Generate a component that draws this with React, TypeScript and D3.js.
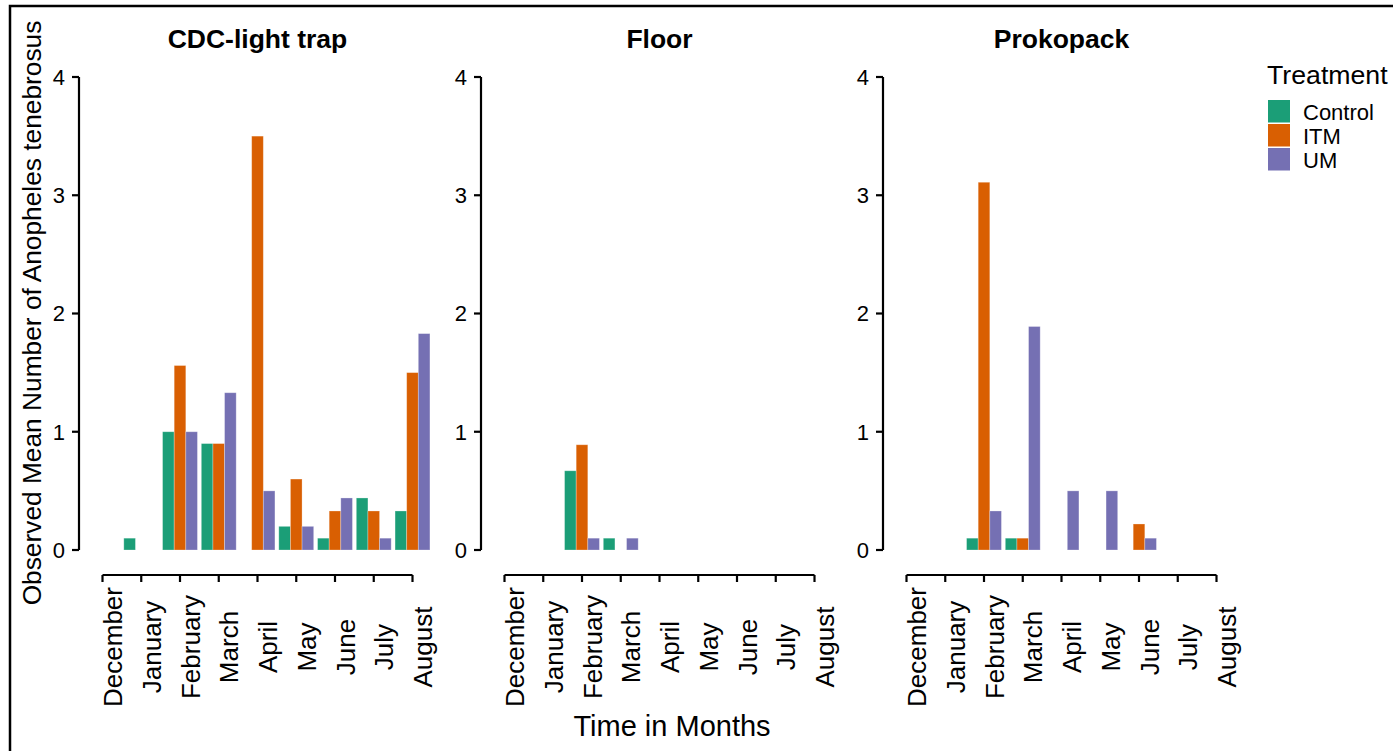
import React from "react";
import * as d3 from "d3";

const months = ["December", "January", "February", "March", "April", "May", "June", "July", "August"];
const treatments = ["Control", "ITM", "UM"];
const panels = ["CDC-light trap", "Floor", "Prokopack"];
const colors = ["#1B9E77", "#D95F02", "#7570B3"];
const yTicks = [0, 1, 2, 3, 4];

// values per month (null = no bar)
const cdcControl = [null, 0.1, 1.0, 0.9, 0, 0.2, 0.1, 0.44, 0.33];
const cdcITM = [null, null, 1.56, 0.9, 3.5, 0.6, 0.33, 0.33, 1.5];
const cdcUM = [null, null, 1.0, 1.33, 0.5, 0.2, 0.44, 0.1, 1.83];

const floorControl = [null, null, 0.67, 0.1, null, null, null, null, null];
const floorITM = [null, null, 0.89, 0, null, null, null, null, null];
const floorUM = [null, null, 0.1, 0.1, null, null, null, null, null];

const prokControl = [null, null, 0.1, 0.1, 0, 0, 0, null, null];
const prokITM = [null, null, 3.11, 0.1, 0, 0, 0.22, null, null];
const prokUM = [null, null, 0.33, 1.89, 0.5, 0.5, 0.1, null, null];

const panelData = [
  [cdcControl, cdcITM, cdcUM],
  [floorControl, floorITM, floorUM],
  [prokControl, prokITM, prokUM],
];

const W = 1393;
const H = 751;
const FONT = "'Liberation Sans', Arial, Helvetica, sans-serif";

export default function App() {
  const y = d3.scaleLinear().domain([0, 4]).range([550, 77]);
  const panelLeft = d3.scaleLinear().domain([0, 2]).range([79, 883]);
  const panelW = 357;
  const axisY = 575;

  return (
    <svg
      width={W}
      height={H}
      style={{ position: "absolute", left: 0, top: 0, background: "#fff" }}
      fontFamily={FONT}
    >
      <rect x={0} y={0} width={W} height={H} fill="#fff" />
      <rect x={10} y={6} width={W + 20} height={H + 20} fill="none" stroke="#000" strokeWidth={2.5} />

      {panels.map((title, pi) => {
        const left = panelLeft(pi);
        const x = d3.scalePoint<string>().domain(months).range([left + 23.5, left + 333.5]);
        const step = x.step();
        const bw = step * 0.9;
        const sub = d3.scaleBand<string>().domain(treatments).range([-bw / 2, bw / 2]);
        const series = panelData[pi];
        return (
          <g key={title}>
            <text x={left + panelW / 2} y={48} textAnchor="middle" fontWeight="bold" fontSize={26.5} fill="#000">
              {title}
            </text>
            {series.map((vals, ti) =>
              vals.map((v, mi) =>
                v === null || v === 0 ? null : (
                  <rect
                    key={`${ti}-${mi}`}
                    x={(x(months[mi]) as number) + (sub(treatments[ti]) as number)}
                    y={y(v)}
                    width={sub.bandwidth()}
                    height={y(0) - y(v)}
                    fill={colors[ti]}
                    stroke="#ffffff"
                    strokeOpacity={0.35}
                    strokeWidth={0.8}
                  />
                )
              )
            )}
            {/* y axis */}
            <line x1={left} x2={left} y1={y(4)} y2={y(0)} stroke="#000" strokeWidth={2.2} />
            {yTicks.map((t) => (
              <g key={t}>
                <line x1={left - 7} x2={left} y1={y(t)} y2={y(t)} stroke="#000" strokeWidth={2.2} />
                <text x={left - 14} y={y(t)} dy="0.36em" textAnchor="end" fontSize={22} fill="#000">
                  {t}
                </text>
              </g>
            ))}
            {/* x axis */}
            <line
              x1={x(months[0]) as number}
              x2={x(months[months.length - 1]) as number}
              y1={axisY}
              y2={axisY}
              stroke="#000"
              strokeWidth={2.2}
            />
            {months.map((m) => {
              const px = x(m) as number;
              return (
                <g key={m}>
                  <line x1={px} x2={px} y1={axisY} y2={axisY + 7} stroke="#000" strokeWidth={2.2} />
                  <text
                    transform={`translate(${px + 19.5},647) rotate(-90)`}
                    textAnchor="middle"
                    fontSize={26}
                    fill="#000"
                  >
                    {m}
                  </text>
                </g>
              );
            })}
          </g>
        );
      })}

      {/* axis titles */}
      <text transform={`translate(41,313) rotate(-90)`} textAnchor="middle" fontSize={26.3} fill="#000">
        Observed Mean Number of Anopheles tenebrosus
      </text>
      <text x={672} y={736} textAnchor="middle" fontSize={29} fill="#000">
        Time in Months
      </text>

      {/* legend */}
      <text x={1267} y={84} fontSize={26.7} fill="#000">
        Treatment
      </text>
      {treatments.map((t, i) => {
        const ly = 100 + i * 24;
        return (
          <g key={t}>
            <rect x={1268} y={ly} width={22} height={22.5} fill={colors[i]} />
            <text x={1303} y={ly + 12} dy="0.36em" fontSize={22} fill="#000">
              {t}
            </text>
          </g>
        );
      })}
    </svg>
  );
}
